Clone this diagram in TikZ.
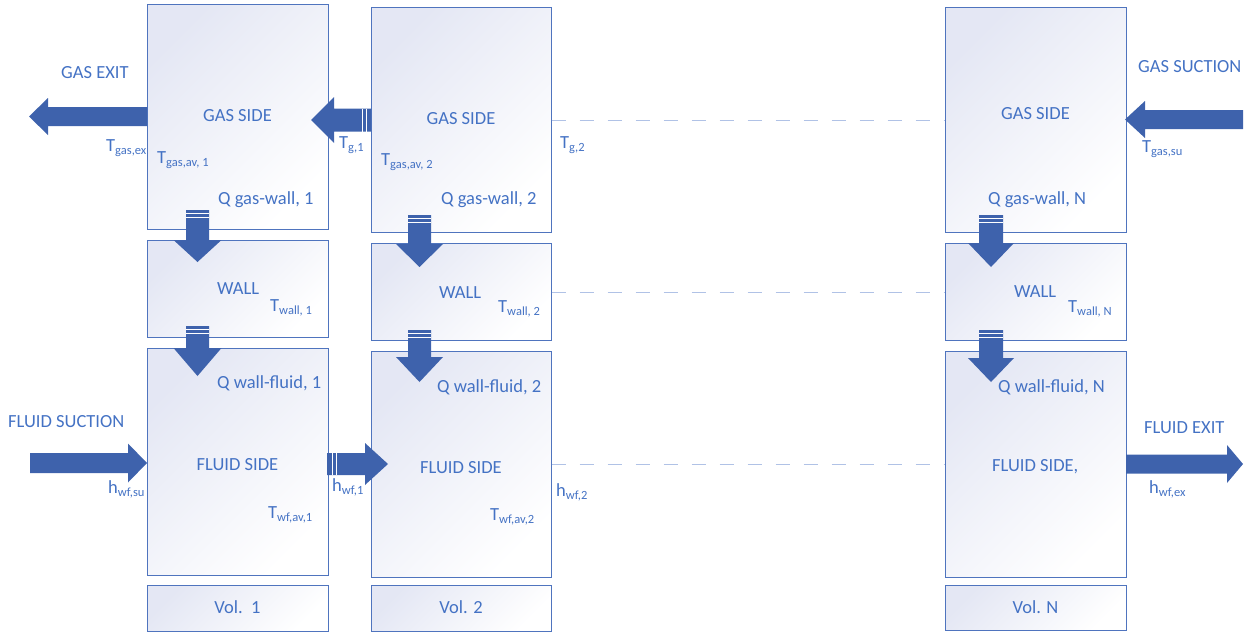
\documentclass[tikz,border=0pt]{standalone}
\usepackage{fontspec}
\setmainfont{Carlito}
\definecolor{txtblue}{HTML}{4472C4}
\definecolor{boxline}{HTML}{4F74BE}
\definecolor{arrowfill}{HTML}{3E62AC}
\definecolor{dashblue}{HTML}{B0C2E6}
\definecolor{boxtop}{HTML}{E4E7F4}
\newcommand\sub[1]{\raisebox{-3pt}{\fontsize{12.5}{14}\selectfont #1}}
% horizontal block arrow: tail x, tip x, centre y, shaft half, head half, head base x
\newcommand\harrow[6]{\fill[arrowfill] (#1,#3-#4) -- (#6,#3-#4) -- (#6,#3-#5) -- (#2,#3) -- (#6,#3+#5) -- (#6,#3+#4) -- (#1,#3+#4) -- cycle;}
% vertical block arrow: centre x, top y, head base y, tip y, shaft half, head half
\newcommand\varrow[6]{\fill[arrowfill] (#1-#5,#2) -- (#1+#5,#2) -- (#1+#5,#3) -- (#1+#6,#3) -- (#1,#4) -- (#1-#6,#3) -- (#1-#5,#3) -- cycle;
  \draw[white,line width=0.8pt] (#1-#5,#2+3) -- (#1+#5,#2+3) (#1-#5,#2+7) -- (#1+#5,#2+7);}
\begin{document}
\begin{tikzpicture}[x=1pt,y=-1pt,
  box/.style={draw=boxline,line width=1pt,shading=axis,top color=boxtop,bottom color=white,shading angle=45,inner sep=0pt,rectangle},
  lbl/.style={text=txtblue,inner sep=0pt,font=\fontsize{18.5}{22}\selectfont},
  dline/.style={draw=dashblue,line width=0.9pt,dash pattern=on 14pt off 14pt}]
\useasboundingbox (0,0) rectangle (1251,632);
% boxes
\node[box,minimum width=181pt,minimum height=225pt] (g1) at (237.5,116.5) {};
\node[box,minimum width=181pt,minimum height=97pt] (w1) at (237.5,288.5) {};
\node[box,minimum width=181pt,minimum height=227pt] (f1) at (237.5,461.5) {};
\node[box,minimum width=181pt,minimum height=46pt] (v1) at (237.5,608) {};
\node[box,minimum width=180pt,minimum height=225pt] (g2) at (461,119.5) {};
\node[box,minimum width=180pt,minimum height=97pt] (w2) at (461,291.5) {};
\node[box,minimum width=180pt,minimum height=226pt] (f2) at (461,464) {};
\node[box,minimum width=180pt,minimum height=46pt] (v2) at (461,608) {};
\node[box,minimum width=181pt,minimum height=225pt] (gN) at (1035.5,119.5) {};
\node[box,minimum width=181pt,minimum height=97pt] (wN) at (1035.5,291.5) {};
\node[box,minimum width=181pt,minimum height=226pt] (fN) at (1035.5,464) {};
\node[box,minimum width=181pt,minimum height=45pt] (vN) at (1035.5,607.5) {};
% dashed continuation lines
\draw[dline] (g2.east |- 0,120) -- (gN.west |- 0,120);
\draw[dline] (w2.east |- 0,292) -- (wN.west |- 0,292);
\draw[dline] (f2.east |- 0,464) -- (fN.west |- 0,464);
% horizontal arrows
\harrow{147}{29}{116.5}{9.5}{18.5}{48}
\harrow{371}{311}{120}{11.5}{23}{334}
\draw[white,line width=0.8pt] (362,108.5) -- (362,131.5) (366,108.5) -- (366,131.5);
\harrow{1243}{1125}{119.5}{9.5}{18.5}{1145}
\harrow{30}{147}{463}{10}{19.5}{128}
\harrow{327}{388}{464}{11}{21}{365}
\draw[white,line width=0.8pt] (332,453) -- (332,475) (336,453) -- (336,475);
\harrow{1126}{1243}{464}{9.5}{19}{1227}
% vertical arrows
\varrow{197.5}{210}{240}{262}{11.5}{24}
\varrow{197.5}{326}{348}{376}{11.5}{24}
\varrow{419.5}{215}{244}{267}{11.5}{23.5}
\varrow{419.5}{330}{357}{382}{11.5}{23.5}
\varrow{991}{215}{243}{267}{12}{23}
\varrow{991}{330}{358}{382}{12}{23}
% texts: gas row
\node[lbl,anchor=base west] (tgasexit) at (61,78) {GAS EXIT};
\node[lbl,anchor=base] (tgs1) at (237.5,121) {GAS SIDE};
\node[lbl,anchor=base] (tgs2) at (461,124) {GAS SIDE};
\node[lbl,anchor=base] (tgsN) at (1035.5,119) {GAS SIDE};
\node[lbl,anchor=base west] (tgassu) at (1138,72) {GAS SUCTION};
\node[lbl,anchor=base west] (ttgex) at (106,151) {T\sub{gas,ex}};
\node[lbl,anchor=base west] (ttgav1) at (157,163) {T\sub{gas,av, 1}};
\node[lbl,anchor=base west] (ttg1) at (339,148) {T\sub{g,1}};
\node[lbl,anchor=base west] (ttgav2) at (381,165) {T\sub{gas,av, 2}};
\node[lbl,anchor=base west] (ttg2) at (560,148) {T\sub{g,2}};
\node[lbl,anchor=base west] (ttgsu) at (1142,152) {T\sub{gas,su}};
\node[lbl,anchor=base west] (tq1) at (218,204) {Q gas-wall, 1};
\node[lbl,anchor=base west] (tq2) at (441,204) {Q gas-wall, 2};
\node[lbl,anchor=base west] (tqN) at (988,204) {Q gas-wall, N};
% wall row
\node[lbl,anchor=base west] (tw1) at (217,294) {WALL};
\node[lbl,anchor=base west] (tw2) at (439,298) {WALL};
\node[lbl,anchor=base west] (twN) at (1014,297) {WALL};
\node[lbl,anchor=base west] (ttw1) at (270,311) {T\sub{wall, 1}};
\node[lbl,anchor=base west] (ttw2) at (498,312) {T\sub{wall, 2}};
\node[lbl,anchor=base west] (ttwN) at (1068,312) {T\sub{wall, N}};
% fluid row
\node[lbl,anchor=base west] (tqf1) at (217,388) {Q wall-fluid, 1};
\node[lbl,anchor=base west] (tqf2) at (437,392) {Q wall-fluid, 2};
\node[lbl,anchor=base west] (tqfN) at (998,392) {Q wall-fluid, N};
\node[lbl,anchor=base west] (tfsu) at (8,427) {FLUID SUCTION};
\node[lbl,anchor=base west] (tfex) at (1144,433) {FLUID EXIT};
\node[lbl,anchor=base] (tfs1) at (237.5,470) {FLUID SIDE};
\node[lbl,anchor=base] (tfs2) at (461,473) {FLUID SIDE};
\node[lbl,anchor=base west] (tfsN) at (992,471) {FLUID SIDE,};
\node[lbl,anchor=base west] (thsu) at (108,493) {h\sub{wf,su}};
\node[lbl,anchor=base west] (th1) at (332,491) {h\sub{wf,1}};
\node[lbl,anchor=base west] (th2) at (556,496) {h\sub{wf,2}};
\node[lbl,anchor=base west] (thex) at (1149,493) {h\sub{wf,ex}};
\node[lbl,anchor=base west] (ttwf1) at (268,518) {T\sub{wf,av,1}};
\node[lbl,anchor=base west] (ttwf2) at (490,520) {T\sub{wf,av,2}};
% volume labels
\node[lbl,anchor=base] (tv1) at (237.5,613) {Vol.\ \ 1};
\node[lbl,anchor=base] (tv2) at (461,613) {Vol. 2};
\node[lbl,anchor=base] (tvN) at (1035.5,613) {Vol. N};
\end{tikzpicture}
\end{document}
